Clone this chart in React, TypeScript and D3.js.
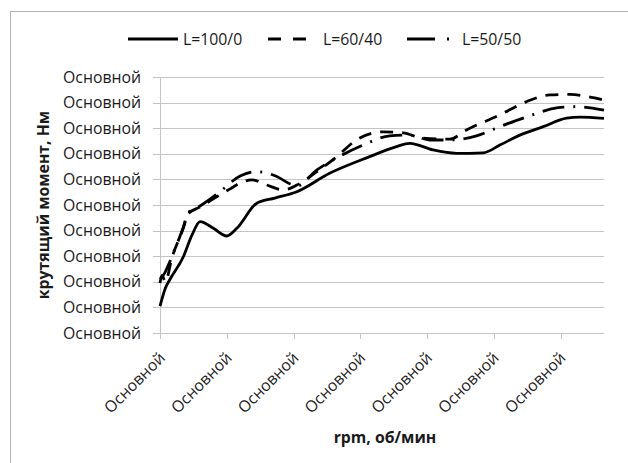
import React from "react";
import * as d3 from "d3";

// x in tick units (7 labelled ticks), y in grid steps (11 gridlines)
const yLabels = ["Основной", "Основной", "Основной", "Основной", "Основной", "Основной", "Основной", "Основной", "Основной", "Основной", "Основной"];
const xLabels = ["Основной", "Основной", "Основной", "Основной", "Основной", "Основной", "Основной"];

const seriesNames = ["L=100/0", "L=60/40", "L=50/50"];

const l100x = [0, 0.08, 0.15, 0.35, 0.48, 0.6, 0.8, 1.0, 1.15, 1.45, 1.72, 2.05, 2.54, 3.14, 3.53, 3.74, 4.09, 4.44, 4.84, 5.09, 5.39, 5.74, 6.09, 6.29, 6.65];
const l100y = [1.05, 1.75, 2.1, 2.98, 3.83, 4.35, 4.09, 3.79, 4.09, 5.07, 5.27, 5.52, 6.24, 6.89, 7.27, 7.41, 7.15, 7.02, 7.04, 7.34, 7.73, 8.06, 8.39, 8.43, 8.38];

const l60x = [0, 0.03, 0.08, 0.18, 0.35, 0.42, 0.6, 0.85, 1.05, 1.23, 1.38, 1.6, 1.85, 2.05, 2.35, 2.65, 2.94, 3.34, 3.64, 3.94, 4.34, 4.59, 5.09, 5.49, 5.84, 6.14, 6.51, 6.65];
const l60y = [1.95, 2.25, 2.0, 2.95, 4.1, 4.65, 4.92, 5.32, 5.63, 5.9, 5.98, 5.78, 5.59, 5.78, 6.3, 6.89, 7.54, 7.86, 7.82, 7.61, 7.57, 7.93, 8.52, 9.04, 9.3, 9.32, 9.18, 9.1];

const l50x = [0, 0.07, 0.12, 0.18, 0.35, 0.42, 0.6, 0.87, 1.2, 1.45, 1.75, 1.95, 2.05, 2.35, 2.65, 3.04, 3.44, 3.74, 4.04, 4.34, 4.74, 5.09, 5.49, 5.94, 6.24, 6.65];
const l50y = [2.11, 2.34, 2.62, 3.0, 4.14, 4.69, 4.96, 5.46, 6.13, 6.3, 6.11, 5.82, 5.74, 6.37, 6.84, 7.34, 7.7, 7.73, 7.54, 7.54, 7.7, 8.06, 8.44, 8.79, 8.84, 8.71];

const dashes = ["none", "13 9", "22 9 2 9"];
const legendDashes = ["none", "13 12", "28 12 2 20"];

const W = 628;
const H = 463;
const FONT = "'Open Sans', 'Noto Sans', sans-serif";
const FS = 15.8;
const TXT = "#1a1a1a";
const GRID = "#c4c4c4";

export default function App() {
  const x = d3.scaleLinear().domain([0, 6.65]).range([160, 604]);
  const y = d3.scaleLinear().domain([0, 10]).range([333, 77]);

  const series = [
    d3.zip(l100x, l100y),
    d3.zip(l60x, l60y),
    d3.zip(l50x, l50y),
  ];

  const line = d3
    .line<number[]>()
    .x((d) => x(d[0]))
    .y((d) => y(d[1]))
    .curve(d3.curveMonotoneX);

  const legendX = [128, 268, 407];

  return (
    <div style={{ position: "absolute", left: 0, top: 0 }}>
      <svg width={W} height={H} style={{ display: "block", background: "#fff" }} fontFamily={FONT}>
        <rect x={10.5} y={11.5} width={W + 20} height={H + 20} fill="#fff" stroke="#b5b5b5" />

        {/* gridlines + y ticks */}
        {yLabels.map((lab, i) => (
          <g key={"y" + i}>
            <line x1={153} x2={604} y1={Math.round(y(i)) + 0.5} y2={Math.round(y(i)) + 0.5} stroke={GRID} />
            <text x={141} y={y(i)} dy="0.35em" textAnchor="end" fontSize={FS} fill={TXT}>
              {lab}
            </text>
          </g>
        ))}

        {/* y axis line */}
        <line x1={160.5} x2={160.5} y1={77} y2={333} stroke={GRID} />

        {/* x ticks */}
        {xLabels.map((lab, i) => (
          <g key={"x" + i}>
            <line x1={Math.round(x(i)) + 0.5} x2={Math.round(x(i)) + 0.5} y1={333} y2={339} stroke={GRID} />
            <text
              transform={`translate(${x(i) + 6},${359}) rotate(-45)`}
              textAnchor="end"
              fontSize={FS}
              fill={TXT}
            >
              {lab}
            </text>
          </g>
        ))}

        {/* series */}
        {series.map((s, i) => (
          <path
            key={"s" + i}
            d={line(s) || ""}
            fill="none"
            stroke="#000"
            strokeWidth={2.8}
            strokeDasharray={dashes[i]}
            strokeLinejoin="round"
          />
        ))}

        {/* axis titles */}
        <text
          transform={`translate(43,205) rotate(-90)`}
          textAnchor="middle"
          dy="0.35em"
          fontSize={FS}
          fontWeight="bold"
          fill={TXT}
        >
          крутящий момент, Нм
        </text>
        <text x={385} y={437} dy="0.35em" textAnchor="middle" fontSize={FS} fontWeight="bold" fill={TXT}>
          rpm, об/мин
        </text>

        {/* legend */}
        {seriesNames.map((n, i) => (
          <g key={"l" + i}>
            <line
              x1={legendX[i]}
              x2={legendX[i] + 50}
              y1={39}
              y2={39}
              stroke="#000"
              strokeWidth={2.8}
              strokeDasharray={legendDashes[i]}
            />
            <text x={legendX[i] + 55} y={39} dy="0.35em" fontSize={FS} fill={TXT}>
              {n}
            </text>
          </g>
        ))}
      </svg>
    </div>
  );
}
